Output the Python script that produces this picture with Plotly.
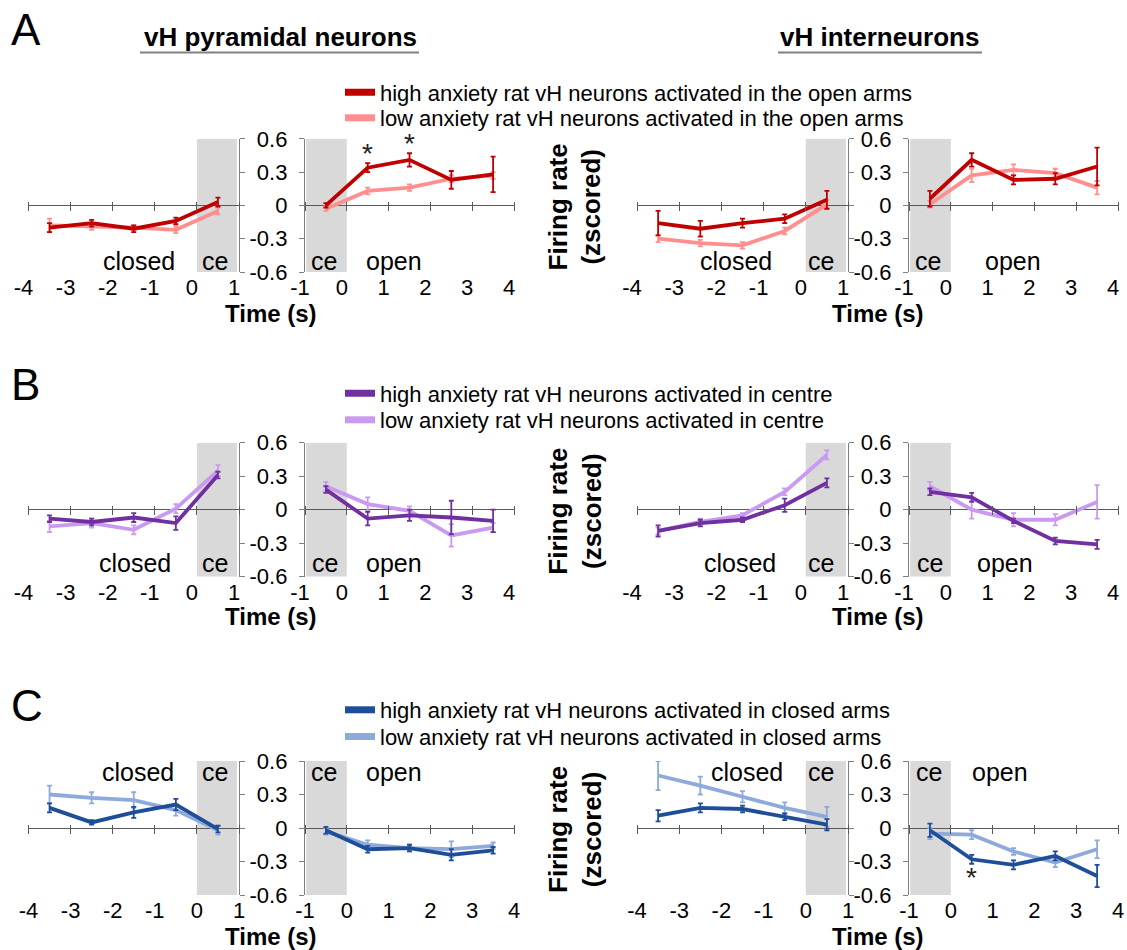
import plotly.graph_objects as go

W, H = 1127, 950
FONT = "Liberation Sans, Arial, Helvetica, sans-serif"

# ---------------- shared categories / tick labels ----------------
x_closed = [-3.5, -2.5, -1.5, -0.5, 0.5]
x_open = [-0.5, 0.5, 1.5, 2.5, 3.5]
closed_tickvals = [-4, -3, -2, -1, 0, 1]
closed_ticktext = ["-4", "-3", "-2", "-1", "0", "1"]
open_tickvals = [-1, 0, 1, 2, 3, 4]
open_ticktext = ["-1", "0", "1", "2", "3", "4"]
y_tickvals = [-0.6, -0.3, 0, 0.3, 0.6]
y_ticktext = ["-0.6", "-0.3", "0", "0.3", "0.6"]

panel_letters = ["A", "B", "C"]
column_titles = ["vH pyramidal neurons", "vH interneurons"]
legend_high = ["high anxiety rat vH neurons activated in the open arms",
               "high anxiety rat vH neurons activated in centre",
               "high anxiety rat vH neurons activated in closed arms"]
legend_low = ["low anxiety rat vH neurons activated in the open arms",
              "low anxiety rat vH neurons activated in centre",
              "low anxiety rat vH neurons activated in closed arms"]

# ---------------- data: A (open-arm neurons) ----------------
A_pyr_high_closed = [-0.20, -0.16, -0.21, -0.14, 0.03]
A_pyr_high_closed_err = [0.04, 0.03, 0.03, 0.03, 0.04]
A_pyr_low_closed = [-0.18, -0.19, -0.20, -0.22, -0.05]
A_pyr_low_closed_err = [0.06, 0.03, 0.02, 0.03, 0.03]
A_pyr_high_open = [0.00, 0.34, 0.41, 0.23, 0.28]
A_pyr_high_open_err = [0.02, 0.04, 0.06, 0.08, 0.16]
A_pyr_low_open = [-0.03, 0.13, 0.16, 0.24, 0.27]
A_pyr_low_open_err = [0.02, 0.03, 0.03, 0.03, 0.03]

A_int_high_closed = [-0.16, -0.21, -0.16, -0.12, 0.05]
A_int_high_closed_err = [0.11, 0.07, 0.04, 0.04, 0.08]
A_int_low_closed = [-0.30, -0.34, -0.36, -0.23, 0.01]
A_int_low_closed_err = [0.03, 0.03, 0.03, 0.03, 0.04]
A_int_high_open = [0.06, 0.41, 0.23, 0.24, 0.35]
A_int_high_open_err = [0.07, 0.06, 0.04, 0.05, 0.17]
A_int_low_open = [0.01, 0.27, 0.32, 0.29, 0.16]
A_int_low_open_err = [0.03, 0.06, 0.05, 0.04, 0.06]

# ---------------- data: B (centre neurons) ----------------
B_pyr_high_closed = [-0.08, -0.11, -0.07, -0.12, 0.31]
B_pyr_high_closed_err = [0.03, 0.03, 0.04, 0.06, 0.03]
B_pyr_low_closed = [-0.15, -0.12, -0.18, 0.01, 0.35]
B_pyr_low_closed_err = [0.05, 0.04, 0.04, 0.04, 0.05]
B_pyr_high_open = [0.18, -0.08, -0.05, -0.07, -0.10]
B_pyr_high_open_err = [0.03, 0.06, 0.05, 0.15, 0.10]
B_pyr_low_open = [0.21, 0.05, -0.01, -0.23, -0.16]
B_pyr_low_open_err = [0.04, 0.06, 0.04, 0.10, 0.04]

B_int_high_closed = [-0.19, -0.12, -0.09, 0.04, 0.24]
B_int_high_closed_err = [0.05, 0.03, 0.02, 0.06, 0.04]
B_int_low_closed = [-0.19, -0.11, -0.05, 0.16, 0.49]
B_int_low_closed_err = [0.03, 0.03, 0.02, 0.03, 0.04]
B_int_high_open = [0.16, 0.11, -0.10, -0.28, -0.31]
B_int_high_open_err = [0.03, 0.04, 0.02, 0.03, 0.04]
B_int_low_open = [0.21, 0.00, -0.09, -0.09, 0.07]
B_int_low_open_err = [0.04, 0.08, 0.06, 0.05, 0.15]

# ---------------- data: C (closed-arm neurons) ----------------
C_pyr_high_closed = [0.18, 0.05, 0.14, 0.21, -0.01]
C_pyr_high_closed_err = [0.04, 0.02, 0.05, 0.05, 0.03]
C_pyr_low_closed = [0.30, 0.27, 0.25, 0.16, -0.02]
C_pyr_low_closed_err = [0.08, 0.05, 0.07, 0.05, 0.04]
C_pyr_high_open = [-0.02, -0.19, -0.18, -0.24, -0.20]
C_pyr_high_open_err = [0.03, 0.03, 0.03, 0.05, 0.03]
C_pyr_low_open = [-0.03, -0.15, -0.18, -0.19, -0.16]
C_pyr_low_open_err = [0.03, 0.04, 0.03, 0.07, 0.03]

C_int_high_closed = [0.11, 0.18, 0.17, 0.10, 0.03]
C_int_high_closed_err = [0.05, 0.04, 0.03, 0.03, 0.05]
C_int_low_closed = [0.47, 0.38, 0.28, 0.18, 0.10]
C_int_low_closed_err = [0.13, 0.08, 0.05, 0.05, 0.09]
C_int_high_open = [-0.02, -0.28, -0.33, -0.25, -0.43]
C_int_high_open_err = [0.06, 0.04, 0.04, 0.04, 0.10]
C_int_low_open = [-0.05, -0.06, -0.21, -0.31, -0.19]
C_int_low_open_err = [0.05, 0.04, 0.03, 0.04, 0.08]

# significance markers (index into the open-side points, 1 = above, -1 = below)
A_pyr_sig_open = [(1, 1), (2, 1)]
C_int_sig_open = [(1, -1)]

# ---------------- assemble lookup built from the named arrays ----------------
DATA = {
    (0, 0): {"closed": (A_pyr_high_closed, A_pyr_high_closed_err, A_pyr_low_closed, A_pyr_low_closed_err),
             "open": (A_pyr_high_open, A_pyr_high_open_err, A_pyr_low_open, A_pyr_low_open_err),
             "sig": A_pyr_sig_open},
    (0, 1): {"closed": (A_int_high_closed, A_int_high_closed_err, A_int_low_closed, A_int_low_closed_err),
             "open": (A_int_high_open, A_int_high_open_err, A_int_low_open, A_int_low_open_err),
             "sig": []},
    (1, 0): {"closed": (B_pyr_high_closed, B_pyr_high_closed_err, B_pyr_low_closed, B_pyr_low_closed_err),
             "open": (B_pyr_high_open, B_pyr_high_open_err, B_pyr_low_open, B_pyr_low_open_err),
             "sig": []},
    (1, 1): {"closed": (B_int_high_closed, B_int_high_closed_err, B_int_low_closed, B_int_low_closed_err),
             "open": (B_int_high_open, B_int_high_open_err, B_int_low_open, B_int_low_open_err),
             "sig": []},
    (2, 0): {"closed": (C_pyr_high_closed, C_pyr_high_closed_err, C_pyr_low_closed, C_pyr_low_closed_err),
             "open": (C_pyr_high_open, C_pyr_high_open_err, C_pyr_low_open, C_pyr_low_open_err),
             "sig": []},
    (2, 1): {"closed": (C_int_high_closed, C_int_high_closed_err, C_int_low_closed, C_int_low_closed_err),
             "open": (C_int_high_open, C_int_high_open_err, C_int_low_open, C_int_low_open_err),
             "sig": C_int_sig_open},
}

# ---------------- styling / layout constants (pixels) ----------------
COLORS = [("#C00000", "#FF8F8F"), ("#7030A0", "#C99AF0"), ("#1F4E99", "#8EA9DB")]
COL_PX = [((28.5, 239.0), (305.0, 514.0)), ((637.0, 848.0), (909.0, 1118.0))]
ROW_PX = [(138.8, 272.0), (442.7, 576.7), (761.0, 895.0)]
ROW_TICKSHIFT = [-5, -5, 0]
REGION_Y = [-0.5, -0.48, 0.5]
REGION_X = {  # (closed label x, ce x) on closed side ; (ce x, open label x) on open side
    (0, 0): ((-1.38, 0.43), (-0.55, 1.14)),
    (0, 1): ((-1.65, 0.37), (-0.55, 1.48)),
    (1, 0): ((-1.48, 0.43), (-0.52, 1.14)),
    (1, 1): ((-1.56, 0.37), (-0.50, 1.30)),
    (2, 0): ((-1.39, 0.43), (-0.55, 1.14)),
    (2, 1): ((-1.39, 0.37), (-0.53, 1.17)),
}
TIME_Y = [313, 616, 936]
LETTER_POS = [(25.5, 29), (25, 385), (27, 705)]
LEGEND_Y = [(92.5, 118.0), (393.5, 420.0), (710.0, 736.7)]
AXIS_GRAY = "#7F7F7F"
ZERO_GRAY = "#595959"


def px_x(p):
    return p / W


def px_y(p):
    return 1 - p / H


def axname(prefix, k):
    return prefix if k == 1 else f"{prefix}{k}"


fig = go.Figure()
layout = dict(
    width=W, height=H, margin=dict(l=0, r=0, t=0, b=0, autoexpand=False),
    paper_bgcolor="white", plot_bgcolor="rgba(0,0,0,0)",
    font=dict(family=FONT, size=22, color="#000000"),
    showlegend=True,
)
shapes = []
annotations = []

for r in range(3):
    ytop, ybot = ROW_PX[r]
    ydom = [px_y(ybot), px_y(ytop)]
    zero_paper = (ydom[0] + ydom[1]) / 2
    c_high, c_low = COLORS[r]
    for c in range(2):
        d = DATA[(r, c)]
        for s, side in enumerate(["closed", "open"]):
            k = r * 4 + c * 2 + s + 1
            ko = k + 12
            x0p, x1p = COL_PX[c][s]
            xdom = [px_x(x0p), px_x(x1p)]
            xrange = [-4, 1] if s == 0 else [-1, 4]
            tv = closed_tickvals if s == 0 else open_tickvals
            tt = closed_ticktext if s == 0 else open_ticktext
            xs = x_closed if s == 0 else x_open
            xa, ya, xo = axname("x", k), axname("y", k), axname("x", ko)

            layout[axname("xaxis", k)] = dict(
                domain=xdom, range=xrange, anchor=ya, tickvals=tv, ticktext=tt,
                showline=False, ticks="", showgrid=False, zeroline=False,
                tickfont=dict(size=22, family=FONT, color="#000000"),
                ticklabelshift=ROW_TICKSHIFT[r],
                automargin=False, fixedrange=True)
            layout[axname("xaxis", ko)] = dict(
                overlaying=xa, range=xrange, anchor="free",
                position=zero_paper + 4.5 / H, tickvals=tv, ticks="outside",
                ticklen=9, tickwidth=1.3, tickcolor=ZERO_GRAY, automargin=False,
                showticklabels=False, showline=False, showgrid=False, zeroline=False)
            ycfg = dict(
                domain=ydom, range=[-0.6, 0.6], anchor=xa, tickvals=y_tickvals,
                showline=True, linecolor=AXIS_GRAY, linewidth=1.3,
                ticks="outside", ticklen=5, tickwidth=1.3, tickcolor=AXIS_GRAY,
                showgrid=False, zeroline=True, zerolinecolor=ZERO_GRAY,
                zerolinewidth=1.3, automargin=False, fixedrange=True)
            if s == 0:
                ycfg.update(side="right", showticklabels=False)
            else:
                ycfg.update(side="left", showticklabels=True, ticktext=y_ticktext,
                            tickfont=dict(size=22, family=FONT, color="#000000"),
                            ticklabelstandoff=7)
            layout[axname("yaxis", k)] = ycfg

            # ce shading
            gx = (0.0, 0.95) if s == 0 else (-0.97, 0.0)
            shapes.append(dict(type="rect", xref=xa, yref=ya, x0=gx[0], x1=gx[1],
                               y0=-0.6, y1=0.6, fillcolor="#D9D9D9",
                               line=dict(width=0), layer="below"))

            high, high_err, low, low_err = d[side]
            for vals, errs, col, nm in ((low, low_err, c_low, "low"), (high, high_err, c_high, "high")):
                fig.add_trace(go.Scatter(
                    x=xs, y=vals, mode="lines", xaxis=xa, yaxis=ya,
                    line=dict(color=col, width=3.8),
                    error_y=dict(type="data", array=errs, visible=True, color=col,
                                 thickness=1.8, width=2.5),
                    showlegend=False, hoverinfo="skip", name=nm))
            # invisible trace binding the overlay tick axis
            fig.add_trace(go.Scatter(x=[None], y=[None], xaxis=xo, yaxis=ya,
                                     showlegend=False, hoverinfo="skip"))

            # region labels
            lab = ("closed", "ce") if s == 0 else ("ce", "open")
            for txt, lx in zip(lab, REGION_X[(r, c)][s]):
                annotations.append(dict(xref=xa, yref=ya, x=lx, y=REGION_Y[r],
                                        text=txt, showarrow=False,
                                        font=dict(size=25, family=FONT, color="#000000"),
                                        xanchor="center", yanchor="middle"))
            # significance asterisks
            if s == 1:
                for idx, direction in d["sig"]:
                    if direction > 0:
                        yy = high[idx] + high_err[idx]
                        annotations.append(dict(xref=xa, yref=ya, x=xs[idx], y=yy,
                                                text="*", showarrow=False,
                                                font=dict(size=28, family=FONT, color="#222222"),
                                                yanchor="bottom", yshift=-8))
                    else:
                        yy = high[idx] - high_err[idx]
                        annotations.append(dict(xref=xa, yref=ya, x=xs[idx], y=yy,
                                                text="*", showarrow=False,
                                                font=dict(size=28, family=FONT, color="#222222"),
                                                yanchor="top", yshift=4))

        # Time (s) label centred under the pair
        mid = (COL_PX[c][0][0] + COL_PX[c][1][1]) / 2
        annotations.append(dict(xref="paper", yref="paper", x=px_x(mid), y=px_y(TIME_Y[r]),
                                text="<b>Time (s)</b>", showarrow=False,
                                font=dict(size=24, family=FONT, color="#000000"),
                                xanchor="center", yanchor="middle"))
        if c == 1:
            zero_px = (ytop + ybot) / 2
            annotations.append(dict(xref="paper", yref="paper", x=px_x(575), y=px_y(zero_px + 2),
                                    text="<b>Firing rate<br>(zscored)</b>", textangle=-90,
                                    showarrow=False,
                                    font=dict(size=26, family=FONT, color="#000000"),
                                    xanchor="center", yanchor="middle"))

    # panel letter
    lx, ly = LETTER_POS[r]
    annotations.append(dict(xref="paper", yref="paper", x=px_x(lx), y=px_y(ly),
                            text=panel_letters[r], showarrow=False,
                            font=dict(size=44, family=FONT, color="#000000"),
                            xanchor="center", yanchor="middle"))

    # legends (one per entry for exact placement)
    for j, (label, col) in enumerate(((legend_high[r], c_high), (legend_low[r], c_low))):
        li = r * 2 + j + 1
        lname = "legend" if li == 1 else f"legend{li}"
        fig.add_trace(go.Scatter(x=[None], y=[None], mode="lines",
                                 line=dict(color=col, width=7), name=label,
                                 legend=lname, showlegend=True, hoverinfo="skip"))
        layout[lname] = dict(x=px_x(340), y=px_y(LEGEND_Y[r][j]), xanchor="left",
                             yanchor="middle", bgcolor="rgba(0,0,0,0)", borderwidth=0,
                             font=dict(size=22, family=FONT, color="#000000"),
                             itemclick=False, itemdoubleclick=False)

# column titles with underline
for title, cx, (ux0, ux1) in zip(column_titles, (280, 879), ((140, 419), (778, 982))):
    annotations.append(dict(xref="paper", yref="paper", x=px_x(cx), y=px_y(37),
                            text=f"<b>{title}</b>", showarrow=False,
                            font=dict(size=26, family=FONT, color="#000000"),
                            xanchor="center", yanchor="middle"))
    shapes.append(dict(type="line", xref="paper", yref="paper",
                       x0=px_x(ux0), x1=px_x(ux1), y0=px_y(52.5), y1=px_y(52.5),
                       line=dict(color="#808080", width=1.8)))

layout["shapes"] = shapes
layout["annotations"] = annotations
fig.update_layout(**layout)
fig.write_html("out.html", config={"displayModeBar": False},
               post_script="document.body.style.margin='0px';document.body.style.padding='0px';")
